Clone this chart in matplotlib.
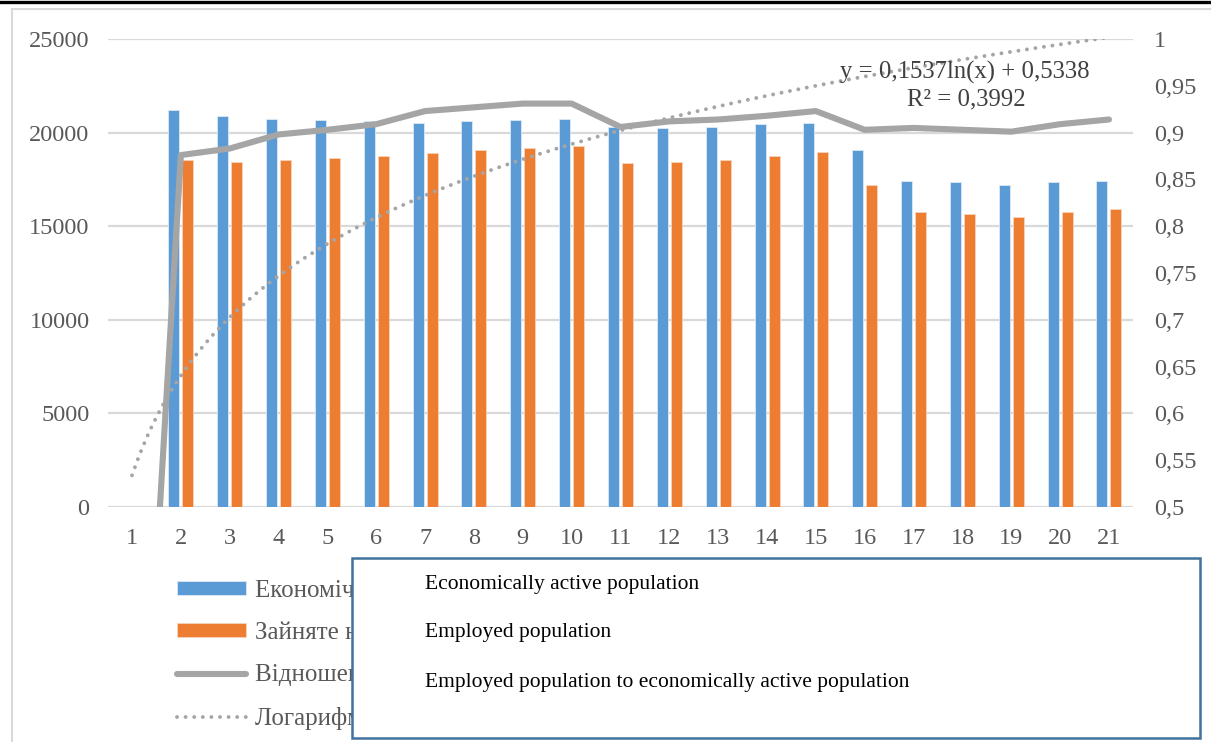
import numpy as np
import matplotlib
matplotlib.use("Agg")
import matplotlib.pyplot as plt
from matplotlib.patches import Rectangle
from matplotlib.lines import Line2D

plt.rcParams['font.family'] = ['Liberation Serif', 'DejaVu Serif']

# ---- data -------------------------------------------------------------
periods = list(range(1, 22))
active = [np.nan, 21200, 20900, 20700, 20650, 20600, 20500, 20600, 20650, 20700,
          20300, 20250, 20300, 20450, 20500, 19050, 17400, 17350, 17200, 17350, 17400]
employed = [np.nan, 18550, 18450, 18550, 18650, 18750, 18900, 19050, 19200, 19300,
            18400, 18450, 18550, 18750, 18950, 17200, 15750, 15650, 15500, 15750, 15900]
ratio = [0, 0.876, 0.883, 0.898, 0.903, 0.909, 0.923, 0.927, 0.931, 0.931,
         0.906, 0.912, 0.914, 0.918, 0.923, 0.903, 0.905, 0.903, 0.901, 0.909, 0.914]

# logarithmic trend of the ratio: y = a*ln(x) + b
trend_a = 0.1537
trend_b = 0.5338
trend_r2 = 0.3992

left_ticks = [0, 5000, 10000, 15000, 20000, 25000]
right_ticks = [0.5, 0.55, 0.6, 0.65, 0.7, 0.75, 0.8, 0.85, 0.9, 0.95, 1.0]

labels_ua = ["Економічно активне населення",
             "Зайняте населення",
             "Відношення зайнятого населення до економічно активного",
             "Логарифмічна (Відношення зайнятого населення до економічно активного)"]
labels_en = ["Economically active population",
             "Employed population",
             "Employed population to economically active population"]

# ---- styling ----------------------------------------------------------
BLUE = "#5B9BD5"
ORANGE = "#ED7D31"
GRAY = "#A5A5A5"
GRID = "#D9D9D9"
TXT = "#595959"
FS = 17.5

W, H = 1211, 742
fig = plt.figure(figsize=(W / 100, H / 100), dpi=100)


def fx(px):
    return px / W


def fy(py):
    return 1 - py / H


def comma(v, fmt):
    return (fmt % v).replace(".", ",")


ax = fig.add_axes([fx(107.6), fy(507), fx(1133.4) - fx(107.6), fy(39) - fy(507)])
ax2 = ax.twinx()

x = np.arange(len(periods))
bw = 0.225
off = 0.143
b1 = ax.bar(x - off, active, bw, color=BLUE, edgecolor="#DCE9F5", linewidth=0.6, zorder=3)
b2 = ax.bar(x + off, employed, bw, color=ORANGE, edgecolor="#F8D3BC", linewidth=0.6, zorder=3)

ax.set_xlim(-0.5, len(periods) - 0.5)
ax.set_ylim(0, 25000)
ax.set_yticks(left_ticks)
ax.set_yticklabels([str(v) for v in left_ticks])
ax.set_xticks(x)
ax.set_xticklabels([str(p) for p in periods])
ax.grid(axis="y", color=GRID, linewidth=1.6, zorder=0)
ax.set_axisbelow(True)

(l1,) = ax2.plot(x, ratio, color=GRAY, linewidth=4.4, solid_capstyle="round",
                 solid_joinstyle="round", zorder=4)
xt = np.linspace(1, len(periods), 400)
(l2,) = ax2.plot(xt - 1, trend_a * np.log(xt) + trend_b, color=GRAY, linewidth=2.8,
                 linestyle=(0, (0.01, 2.2)), dash_capstyle="round", zorder=4)
ax2.set_ylim(0.5, 1.0)
ax2.set_yticks(right_ticks)
ax2.set_yticklabels([("%g" % v).replace(".", ",") for v in right_ticks])

for a in (ax, ax2):
    for s in a.spines.values():
        s.set_visible(False)
    a.tick_params(length=0, labelsize=FS, labelcolor=TXT)
ax.tick_params(axis="y", pad=13)
ax.tick_params(axis="x", pad=15)
ax2.tick_params(axis="y", pad=15)

# trendline equation
fig.text(fx(965), fy(72), "y = %sln(x) + %s" % (comma(trend_a, "%.4f"), comma(trend_b, "%.4f")),
         ha="center", va="center", fontsize=FS + 0.3, color="#404040", zorder=6)
fig.text(fx(966), fy(99), "R² = %s" % comma(trend_r2, "%.4f"),
         ha="center", va="center", fontsize=FS + 0.3, color="#404040", zorder=6)

# ---- legend -------------------------------------------------------------
leg = fig.legend([b1, b2, l1, l2], labels_ua, loc="upper left",
                 bbox_to_anchor=(fx(177), fy(580)), frameon=False, fontsize=FS + 0.5,
                 labelcolor=TXT, handlelength=2.75, handleheight=0.45, handletextpad=0.38,
                 labelspacing=0.8, borderaxespad=0, borderpad=0)
leg.set_zorder(5)

# frame decorations
fig.add_artist(Line2D([0, 1], [fy(2), fy(2)], color="black", linewidth=2.4,
                      transform=fig.transFigure))
fig.add_artist(Line2D([fx(12), 1], [fy(9), fy(9)], color=GRID, linewidth=1.5,
                      transform=fig.transFigure))
fig.add_artist(Line2D([fx(12), fx(12)], [fy(9), 0], color=GRID, linewidth=1.5,
                      transform=fig.transFigure))

# English caption box on top of the legend
box = Rectangle((fx(352), fy(738)), fx(1200) - fx(352), fy(558) - fy(738),
                transform=fig.transFigure, facecolor="white", edgecolor="#41719C",
                linewidth=1.8, zorder=10)
fig.add_artist(box)
for i, t in enumerate(labels_en):
    fig.text(fx(425), fy(584 + 49 * i), t, fontsize=15.5, color="black",
             ha="left", va="center", zorder=11)

fig.savefig("out.png", dpi=100)
